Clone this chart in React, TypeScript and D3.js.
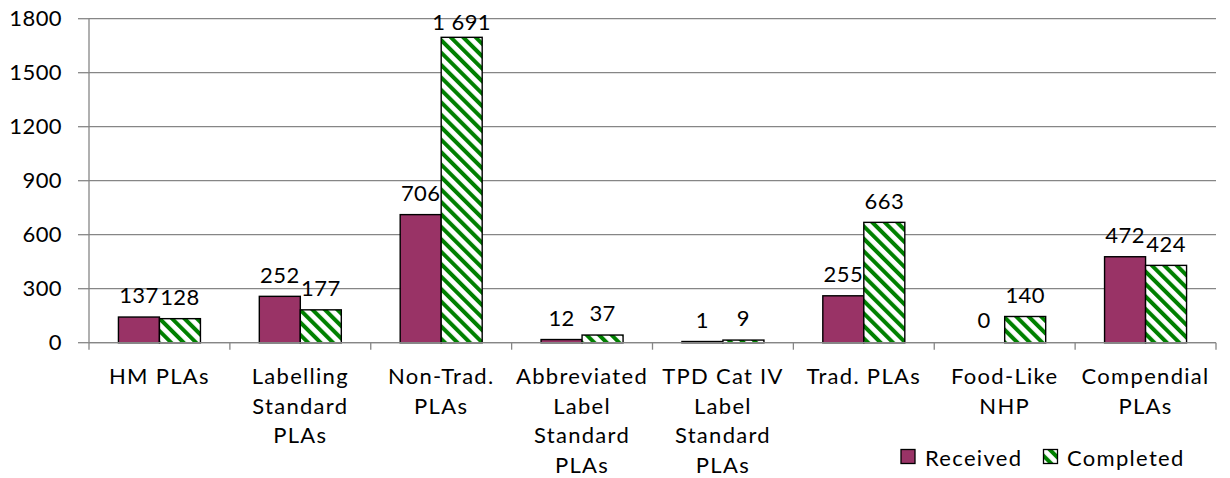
import React from "react";
import * as d3 from "d3";

const categories: string[][] = [
  ["HM PLAs"],
  ["Labelling", "Standard", "PLAs"],
  ["Non-Trad.", "PLAs"],
  ["Abbreviated", "Label", "Standard", "PLAs"],
  ["TPD Cat IV", "Label", "Standard", "PLAs"],
  ["Trad. PLAs"],
  ["Food-Like", "NHP"],
  ["Compendial", "PLAs"],
];
const received: number[] = [137, 252, 706, 12, 1, 255, 0, 472];
const completed: number[] = [128, 177, 1691, 37, 9, 663, 140, 424];
const yTicks: number[] = [0, 300, 600, 900, 1200, 1500, 1800];
const seriesNames: string[] = ["Received", "Completed"];

const W = 1230;
const H = 478;
const left = 89;
const right = 1216;
const top = 18.7;
const bottom = 342.7;
const FONT = "Lato, 'Open Sans', sans-serif";
const FS = 22;
const LS_NUM = "0.4px";
const LS_TXT = "1.3px";
const GRID = "#868686";
const PLUM = "#993366";
const GREEN = "#008000";

const fmt = d3.formatLocale({ decimal: ".", thousands: "\u00a0", grouping: [3], currency: ["", ""] }).format(",");

export default function App() {
  const keys = categories.map((c) => c.join(" "));
  const x = d3.scaleBand<string>().domain(keys).range([left, right]).paddingInner(0).paddingOuter(0);
  const y = d3.scaleLinear().domain([0, 1800]).range([bottom, top]);
  const cw = x.bandwidth();
  const barW = 41;
  const inner = d3
    .scaleBand<string>()
    .domain(seriesNames)
    .range([(cw - 2 * barW) / 2, (cw + 2 * barW) / 2])
    .padding(0);

  const boundaries = d3.range(categories.length + 1).map((i) => left + i * cw);

  const labelY = (v: number) => Math.max(y(v) - 14.7, 29.5);

  return (
    <svg
      width={W}
      height={H}
      style={{ position: "absolute", left: 0, top: 0, background: "#fff" }}
      fontFamily={FONT}
      fontSize={FS}
    >
      <defs>
        <pattern
          id="diag"
          patternUnits="userSpaceOnUse"
          width={8.8}
          height={8.8}
          patternTransform="rotate(-45)"
        >
          <rect x={0} y={0} width={8.8} height={8.8} fill="#fff" />
          <rect x={0} y={0} width={4} height={8.8} fill={GREEN} />
        </pattern>
      </defs>

      {/* gridlines */}
      {yTicks.map((t) => (
        <line key={"g" + t} x1={left} x2={right} y1={y(t)} y2={y(t)} stroke={GRID} strokeWidth={1.3} />
      ))}
      {/* y axis */}
      <line x1={left} x2={left} y1={top} y2={bottom} stroke={GRID} strokeWidth={1.3} />
      {yTicks.map((t) => (
        <g key={"yt" + t}>
          <line x1={left - 11} x2={left} y1={y(t)} y2={y(t)} stroke={GRID} strokeWidth={1.3} />
          <text x={62} y={y(t)} dy="0.35em" textAnchor="end" fill="#000" letterSpacing={LS_NUM}>
            {t}
          </text>
        </g>
      ))}
      {/* x axis ticks */}
      {boundaries.map((b, i) => (
        <line key={"xt" + i} x1={b} x2={b} y1={bottom} y2={bottom + 7} stroke={GRID} strokeWidth={1.3} />
      ))}

      {/* bars */}
      {keys.map((k, i) => {
        const x0 = x(k) as number;
        const rv = received[i];
        const cv = completed[i];
        const rx = x0 + (inner("Received") as number);
        const cx = x0 + (inner("Completed") as number);
        return (
          <g key={"b" + i}>
            {rv > 0 && (
              <rect
                x={rx}
                y={y(rv) - 1}
                width={barW}
                height={bottom - y(rv) + 1}
                fill={PLUM}
                stroke="#000"
                strokeWidth={1.4}
              />
            )}
            {cv > 0 && (
              <rect
                x={cx}
                y={y(cv) - 1}
                width={barW}
                height={bottom - y(cv) + 1}
                fill="url(#diag)"
                stroke="#000"
                strokeWidth={1.4}
              />
            )}
            <text x={rx + barW / 2} y={labelY(rv)} textAnchor="middle" fill="#000" letterSpacing={LS_NUM}>
              {fmt(rv)}
            </text>
            <text x={cx + barW / 2} y={labelY(cv)} textAnchor="middle" fill="#000" letterSpacing={LS_NUM}>
              {fmt(cv)}
            </text>
          </g>
        );
      })}
      {/* x axis line */}
      <line x1={left} x2={right} y1={bottom} y2={bottom} stroke={GRID} strokeWidth={1.3} />

      {/* category labels */}
      {categories.map((lines, i) => {
        const cx = (x(keys[i]) as number) + cw / 2;
        return (
          <text key={"c" + i} textAnchor="middle" fill="#000" letterSpacing={LS_TXT}>
            {lines.map((ln, j) => (
              <tspan key={j} x={cx} y={384 + j * 29.6}>
                {ln}
              </tspan>
            ))}
          </text>
        );
      })}

      {/* legend */}
      <g>
        <rect x={901} y={449.5} width={14} height={14} fill={PLUM} stroke="#000" strokeWidth={1.3} />
        <text x={925} y={466} fill="#000" letterSpacing={LS_TXT}>
          {seriesNames[0]}
        </text>
        <rect x={1043.5} y={449.5} width={14} height={14} fill="url(#diag)" stroke="#000" strokeWidth={1.3} />
        <text x={1067} y={466} fill="#000" letterSpacing={LS_TXT}>
          {seriesNames[1]}
        </text>
      </g>
    </svg>
  );
}
